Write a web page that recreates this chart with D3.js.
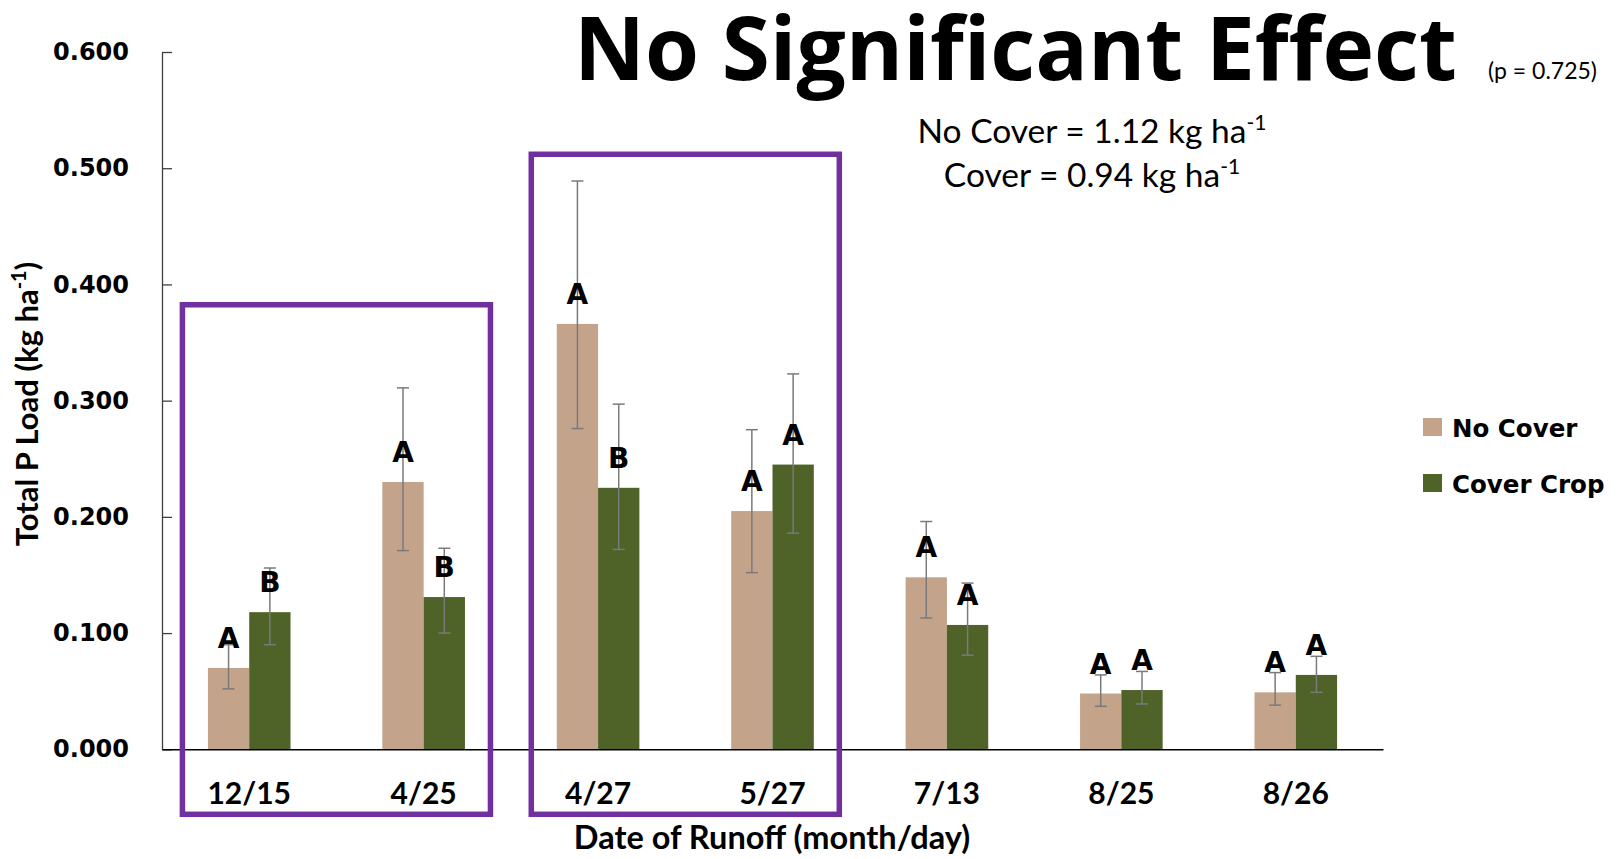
<!DOCTYPE html>
<html>
<head>
<meta charset="utf-8">
<script src="https://cdn.jsdelivr.net/npm/d3@7"></script>
<style>
  html, body { margin: 0; padding: 0; background: #fff; }
  svg { display: block; }
</style>
</head>
<body>
<svg id="chart" width="1620" height="859"></svg>
<script>
// Runoff event dates (month/day)
const dates = ['12/15', '4/25', '4/27', '5/27', '7/13', '8/25', '8/26'];
const seriesNames = ['No Cover', 'Cover Crop'];

// Mean total P load per event, kg ha-1
const noCover   = [0.070, 0.230, 0.366, 0.205, 0.148, 0.048, 0.049];
const coverCrop = [0.118, 0.131, 0.225, 0.245, 0.107, 0.051, 0.064];

// Error bar limits (upper / lower)
const noCoverHi   = [0.090, 0.311, 0.489, 0.275, 0.196, 0.064, 0.066];
const noCoverLo   = [0.052, 0.171, 0.276, 0.152, 0.113, 0.037, 0.038];
const coverCropHi = [0.156, 0.173, 0.297, 0.323, 0.143, 0.067, 0.080];
const coverCropLo = [0.090, 0.100, 0.172, 0.186, 0.081, 0.039, 0.049];

// Mean separation letters within each date
const noCoverLetters   = ['A', 'A', 'A', 'A', 'A', 'A', 'A'];
const coverCropLetters = ['B', 'B', 'B', 'A', 'A', 'A', 'A'];

// Y axis ticks
const yTicks = [0, 0.1, 0.2, 0.3, 0.4, 0.5, 0.6];

// Highlighted date groups: first date, last date, top of frame (kg ha-1)
const highlightGroups = [
  { from: '12/15', to: '4/25', top: 0.3825 },
  { from: '4/27',  to: '5/27', top: 0.512 }
];

const colors = { 'No Cover': '#C3A48B', 'Cover Crop': '#4F6228' };
const titleFont = 'Lato, "Open Sans", sans-serif';
const headFont = '"Open Sans", Lato, sans-serif';
const wideFont = '"DejaVu Sans", Verdana, sans-serif';

const svg = d3.select('#chart');

const x0 = d3.scaleBand()
  .domain(dates)
  .range([162, 1383])
  .paddingInner(0.5264)
  .paddingOuter(0.2632);

const x1 = d3.scaleBand()
  .domain(seriesNames)
  .range([0, x0.bandwidth()]);

const y = d3.scaleLinear()
  .domain([0, 0.6])
  .range([749.3, 52]);

const rows = dates.map((d, i) => ({
  date: d,
  values: [
    { series: 'No Cover', v: noCover[i], hi: noCoverHi[i], lo: noCoverLo[i], letter: noCoverLetters[i] },
    { series: 'Cover Crop', v: coverCrop[i], hi: coverCropHi[i], lo: coverCropLo[i], letter: coverCropLetters[i] }
  ]
}));

// Bars
const groups = svg.append('g').selectAll('g')
  .data(rows)
  .join('g')
  .attr('transform', d => `translate(${x0(d.date)},0)`);

groups.selectAll('rect')
  .data(d => d.values)
  .join('rect')
  .attr('x', d => x1(d.series))
  .attr('y', d => y(d.v))
  .attr('width', x1.bandwidth())
  .attr('height', d => y(0) - y(d.v))
  .attr('fill', d => colors[d.series]);

// Error bars
const capHalf = 6;
const err = groups.selectAll('g.err')
  .data(d => d.values)
  .join('g')
  .attr('class', 'err')
  .attr('stroke', '#7a7a7a')
  .attr('stroke-width', 1.5)
  .attr('transform', d => `translate(${x1(d.series) + x1.bandwidth() / 2},0)`);
err.append('line').attr('x1', 0).attr('x2', 0).attr('y1', d => y(d.hi)).attr('y2', d => y(d.lo));
err.append('line').attr('x1', -capHalf).attr('x2', capHalf).attr('y1', d => y(d.hi)).attr('y2', d => y(d.hi));
err.append('line').attr('x1', -capHalf).attr('x2', capHalf).attr('y1', d => y(d.lo)).attr('y2', d => y(d.lo));

// Letters
groups.selectAll('text.letter')
  .data(d => d.values)
  .join('text')
  .attr('class', 'letter')
  .attr('x', d => x1(d.series) + x1.bandwidth() / 2)
  .attr('y', d => y(d.v) - 20)
  .attr('text-anchor', 'middle')
  .attr('font-family', wideFont)
  .attr('font-weight', 'bold')
  .attr('font-size', 28)
  .attr('fill', '#000')
  .text(d => d.letter);

// Y axis
const yAxis = d3.axisRight(y)
  .tickValues(yTicks)
  .tickFormat(d3.format('.3f'))
  .tickSize(10)
  .tickSizeOuter(0);
const yg = svg.append('g').attr('transform', 'translate(162,0)').call(yAxis);
yg.select('.domain').attr('stroke', '#404040').attr('stroke-width', 1.3);
yg.selectAll('.tick line').attr('stroke', '#404040').attr('stroke-width', 1.3);
yg.selectAll('.tick text')
  .attr('x', -33)
  .attr('text-anchor', 'end')
  .attr('font-family', wideFont)
  .attr('font-weight', 'bold')
  .attr('font-size', 24)
  .attr('fill', '#000');

// X axis
const xAxis = d3.axisBottom(x0).tickSize(0).tickSizeOuter(0);
const xg = svg.append('g').attr('transform', `translate(0,${y(0)})`).call(xAxis);
xg.select('.domain').attr('stroke', '#000').attr('stroke-width', 1.5);
xg.selectAll('.tick text')
  .attr('y', 55)
  .attr('dy', 0)
  .attr('font-family', titleFont)
  .attr('font-weight', 'bold')
  .attr('font-size', 30)
  .attr('fill', '#000');

// Highlight frames around date groups
svg.append('g').selectAll('rect')
  .data(highlightGroups)
  .join('rect')
  .attr('x', d => x0(d.from) - 25.5)
  .attr('y', d => y(d.top))
  .attr('width', d => x0(d.to) + x0.bandwidth() + 25.5 - (x0(d.from) - 25.5))
  .attr('height', d => y(0) + 65 - y(d.top))
  .attr('fill', 'none')
  .attr('stroke', '#7030A0')
  .attr('stroke-width', 5.5);

// Axis titles
const yTitle = svg.append('text')
  .attr('transform', 'translate(38,404) rotate(-90)')
  .attr('text-anchor', 'middle')
  .attr('font-family', titleFont)
  .attr('font-weight', 'bold')
  .attr('font-size', 31)
  .attr('fill', '#000');
yTitle.append('tspan').text('Total P Load (kg ha');
yTitle.append('tspan').attr('dy', -12).attr('font-size', 20).text('-1');
yTitle.append('tspan').attr('dy', 12).text(')');

svg.append('text')
  .attr('x', 772)
  .attr('y', 849)
  .attr('text-anchor', 'middle')
  .attr('font-family', titleFont)
  .attr('font-weight', 'bold')
  .attr('font-size', 32.5)
  .attr('fill', '#000')
  .text('Date of Runoff (month/day)');

// Title, sized to span its slot
const title = svg.append('text')
  .attr('x', 574)
  .attr('y', 80)
  .attr('font-family', headFont)
  .attr('font-weight', 'bold')
  .attr('font-size', 88)
  .attr('fill', '#000')
  .text('No Significant Effect');
const titleWidth = 883;
const measured = title.node().getComputedTextLength();
if (measured > 0) title.attr('font-size', 88 * titleWidth / measured);

svg.append('text')
  .attr('x', 1597)
  .attr('y', 79)
  .attr('text-anchor', 'end')
  .attr('font-family', titleFont)
  .attr('font-size', 23)
  .attr('fill', '#000')
  .text('(p = 0.725)');

const fmt2 = d3.format('.2f');
const totals = [
  { label: 'No Cover', total: d3.sum(noCover) },
  { label: 'Cover', total: d3.sum(coverCrop) }
];
totals.forEach((t, i) => {
  const tx = svg.append('text')
    .attr('x', 1092)
    .attr('y', 143 + i * 44)
    .attr('text-anchor', 'middle')
    .attr('font-family', titleFont)
    .attr('font-size', 33.5)
    .attr('fill', '#000');
  tx.append('tspan').text(`${t.label} = ${fmt2(t.total)} kg ha`);
  tx.append('tspan').attr('dy', -13).attr('font-size', 21).text('-1');
});

// Legend
const legend = svg.append('g').selectAll('g')
  .data(seriesNames)
  .join('g')
  .attr('transform', (d, i) => `translate(1423,${418 + i * 56})`);
legend.append('rect')
  .attr('width', 19)
  .attr('height', 18)
  .attr('fill', d => colors[d]);
legend.append('text')
  .attr('x', 29)
  .attr('y', 19)
  .attr('font-family', wideFont)
  .attr('font-weight', 'bold')
  .attr('font-size', 24.5)
  .attr('fill', '#000')
  .text(d => d);
</script>
</body>
</html>
